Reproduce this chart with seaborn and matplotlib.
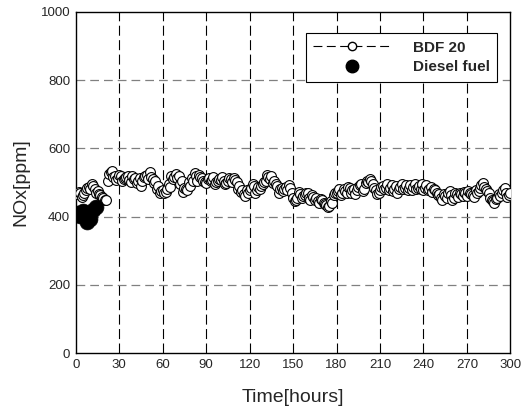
import matplotlib
matplotlib.use("Agg")
import matplotlib.pyplot as plt
from matplotlib.lines import Line2D
import seaborn as sns
import pandas as pd

bdf_hours_odd = list(range(1, 300, 2))
bdf_nox_odd = [465, 470, 462, 478, 488, 495, 482, 476, 462, 455,
               450, 525, 535, 520, 512, 518, 510, 515, 508, 520,
               512, 505, 490, 515, 522, 532, 510, 505, 490, 475,
               470, 480, 488, 510, 525, 520, 505, 485, 478, 490,
               505, 518, 522, 512, 500, 510, 505, 515, 500, 510,
               515, 495, 505, 510, 514, 500, 490, 478, 460, 470,
               485, 490, 478, 482, 495, 505, 515, 520, 505, 490,
               480, 475, 488, 492, 470, 445, 455, 465, 460, 468,
               455, 462, 450, 445, 452, 440, 435, 432, 440, 470,
               475, 462, 480, 470, 485, 478, 465, 488, 495, 482,
               505, 510, 495, 478, 470, 488, 480, 495, 485, 475,
               490, 480, 495, 485, 478, 492, 488, 480, 490, 495,
               485, 478, 488, 480, 470, 465, 448, 460, 470, 462,
               455, 465, 470, 460, 468, 475, 465, 458, 470, 485,
               498, 480, 470, 448, 440, 455, 460, 478, 470, 462]

bdf_hours_even = list(range(2, 301, 2))
bdf_nox_even = [472, 458, 470, 484, 480, 490, 470, 466, 458, 448,
                505, 530, 516, 508, 522, 505, 512, 520, 500, 510,
                498, 512, 505, 520, 510, 515, 498, 482, 468, 478,
                472, 495, 520, 515, 512, 495, 472, 482, 500, 512,
                528, 505, 515, 505, 498, 512, 508, 495, 505, 508,
                505, 498, 512, 502, 508, 482, 472, 465, 478, 478,
                495, 470, 488, 490, 500, 522, 510, 498, 495, 470,
                485, 482, 478, 485, 455, 450, 472, 455, 462, 470,
                448, 458, 455, 440, 448, 438, 428, 445, 462, 468,
                480, 470, 475, 488, 468, 480, 478, 492, 475, 498,
                500, 505, 485, 465, 478, 490, 485, 478, 492, 480,
                470, 488, 482, 492, 485, 478, 495, 485, 482, 478,
                492, 482, 472, 478, 462, 455, 466, 455, 475, 450,
                470, 458, 465, 472, 460, 470, 462, 478, 475, 492,
                488, 475, 455, 445, 452, 465, 470, 484, 458, 468]

diesel_hours = [1, 3, 5, 7, 8, 10, 12, 14]
diesel_nox = [410, 402, 415, 395, 383, 392, 420, 428]

x_ticks = [0, 30, 60, 90, 120, 150, 180, 210, 240, 270, 300]
y_ticks = [0, 200, 400, 600, 800, 1000]
labels = ["BDF 20", "Diesel fuel"]

sns.set_style("white")
plt.rcParams['font.family'] = ['Liberation Sans', 'DejaVu Sans']

bdf = pd.DataFrame({"t": bdf_hours_odd + bdf_hours_even,
                    "nox": bdf_nox_odd + bdf_nox_even}).sort_values("t")
dsl = pd.DataFrame({"t": diesel_hours, "nox": diesel_nox})

fig = plt.figure(figsize=(5.30, 4.11), dpi=100)
ax = fig.add_axes([0.143, 0.141, 0.820, 0.830])

ax.set_xlim(0, 300)
ax.set_ylim(0, 1000)
ax.set_xticks(x_ticks)
ax.set_yticks(y_ticks)

for xv in x_ticks[1:-1]:
    ax.axvline(xv, color="black", lw=0.8, dashes=(9, 4), zorder=0)
for yv in y_ticks[1:-1]:
    ax.axhline(yv, color="0.5", lw=0.9, dashes=(7, 4), zorder=0)

sns.scatterplot(data=bdf, x="t", y="nox", ax=ax, marker="o", s=50,
                facecolor="white", edgecolor="black", linewidth=0.8, zorder=3)
sns.scatterplot(data=dsl, x="t", y="nox", ax=ax, marker="o", s=115,
                color="black", edgecolor="black", linewidth=0.5, zorder=4)

for s in ax.spines.values():
    s.set_color("black")
    s.set_linewidth(1.0)

ax.tick_params(axis="both", labelsize=9.5, length=0, pad=4)
ax.set_xlabel("Time[hours]", fontsize=14, labelpad=13)
ax.set_ylabel("NOx[ppm]", fontsize=14, labelpad=8)

handles = [
    Line2D([0], [0], color="black", lw=0.8, dashes=(8, 4), marker="o",
           markersize=6, markerfacecolor="white", markeredgecolor="black"),
    Line2D([0], [0], color="none", marker="o", markersize=9,
           markerfacecolor="black", markeredgecolor="black"),
]
leg = ax.legend(handles, labels, loc="upper right", bbox_to_anchor=(0.97, 0.938),
                borderaxespad=0, frameon=True, fancybox=False, edgecolor="black",
                framealpha=1, handlelength=5, handletextpad=1.5, borderpad=0.5,
                labelspacing=0.35, prop={"weight": "bold", "size": 11})
leg.get_frame().set_linewidth(0.8)

fig.savefig("out.png", dpi=100)
